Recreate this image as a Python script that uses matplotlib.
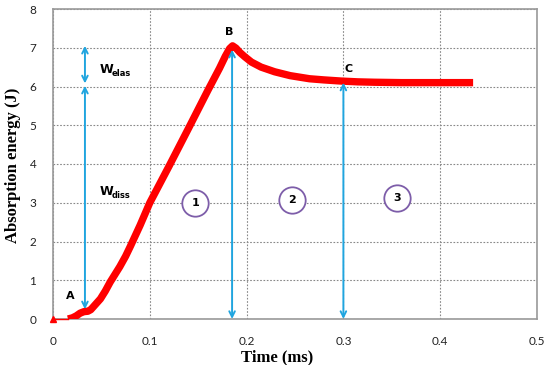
import matplotlib
matplotlib.use("Agg")
import matplotlib.pyplot as plt

# ---------- DATA ----------
time_ms = [0.0155, 0.02, 0.024, 0.028, 0.032, 0.036, 0.039, 0.044, 0.049, 0.054,
           0.059, 0.064, 0.069, 0.075, 0.08, 0.09, 0.1, 0.12, 0.14, 0.16,
           0.172, 0.178, 0.1825, 0.1855, 0.189, 0.193, 0.198, 0.205, 0.215,
           0.229, 0.245, 0.265, 0.28, 0.298, 0.315, 0.332, 0.36, 0.39, 0.434]
energy_j = [0.0, 0.03, 0.08, 0.15, 0.19, 0.2, 0.24, 0.38, 0.52, 0.72,
            0.95, 1.15, 1.35, 1.62, 1.88, 2.42, 3.0, 3.95, 4.92, 5.9,
            6.47, 6.78, 6.98, 7.05, 6.99, 6.88, 6.77, 6.63, 6.5,
            6.38, 6.28, 6.2, 6.17, 6.14, 6.12, 6.11, 6.1, 6.1, 6.1]
pre_time = [0.0, 0.0155]
pre_energy = [0.0, 0.0]

# vertical double arrows: (x, y_bottom, y_top)
arrows = [(0.033, 0.25, 6.02), (0.033, 6.08, 7.05),
          (0.185, 0.0, 6.95), (0.3, 0.0, 6.1)]
point_labels = [("A", 0.0175, 0.6), ("B", 0.182, 7.4), ("C", 0.305, 6.45)]
stage_labels = [("1", 0.147, 3.0), ("2", 0.247, 3.07), ("3", 0.355, 3.12)]

BLUE = "#20A5DF"
PURPLE = "#7D5DA9"

fig = plt.figure(figsize=(5.5, 3.65), dpi=100)
ax = fig.add_axes([53 / 550, 1 - 319 / 365, 484 / 550, 310 / 365])

ax.plot(pre_time, pre_energy, color="red", lw=1.0, marker="^", markersize=5,
        markevery=[0], zorder=4, clip_on=False)
ax.plot(time_ms, energy_j, color="red", lw=5.3, solid_capstyle="butt",
        solid_joinstyle="round", zorder=4)

for x, y0, y1 in arrows:
    ax.annotate("", xy=(x, y1), xytext=(x, y0),
                arrowprops=dict(arrowstyle="<->", color=BLUE, lw=1.4,
                                mutation_scale=10, shrinkA=0, shrinkB=0),
                zorder=5)

for s, x, y in point_labels:
    ax.text(x, y, s, fontsize=8, fontweight="bold", ha="center", va="center",
            family="DejaVu Sans")

ax.text(0.048, 6.45, r"W", fontsize=9, fontweight="bold", ha="left", va="center")
ax.text(0.0605, 6.33, "elas", fontsize=6, fontweight="bold", ha="left", va="center")
ax.text(0.048, 3.3, r"W", fontsize=9, fontweight="bold", ha="left", va="center")
ax.text(0.0605, 3.18, "diss", fontsize=6, fontweight="bold", ha="left", va="center")

for s, x, y in stage_labels:
    ax.plot([x], [y], marker="o", markersize=19, markerfacecolor="white",
            markeredgecolor=PURPLE, markeredgewidth=1.3, zorder=6)
    ax.text(x, y, s, fontsize=8, fontweight="bold", ha="center", va="center",
            zorder=7)

ax.set_xlim(0, 0.5)
ax.set_ylim(0, 8)
ax.set_xticks([0, 0.1, 0.2, 0.3, 0.4, 0.5])
ax.set_xticklabels(["0", "0.1", "0.2", "0.3", "0.4", "0.5"])
ax.set_yticks(range(0, 9))
ax.tick_params(length=0, labelsize=8.5, pad=12, colors="#222222")
for lab in ax.get_xticklabels() + ax.get_yticklabels():
    lab.set_family("Lato")
ax.grid(True, linestyle=(0, (1.5, 1.5)), color="#888888", lw=0.8)
for sp in ax.spines.values():
    sp.set_color("#999999")
    sp.set_linewidth(1.2)

fig.text(277 / 550, 1 - 357 / 365, "Time (ms)", fontsize=12, fontweight="bold",
         family="Liberation Serif", ha="center", va="center")
fig.text(13 / 550, 1 - 165 / 365, "Absorption energy (J)", fontsize=12,
         fontweight="bold", family="Liberation Serif", ha="center", va="center",
         rotation=90)

fig.savefig("out.png", dpi=100)
